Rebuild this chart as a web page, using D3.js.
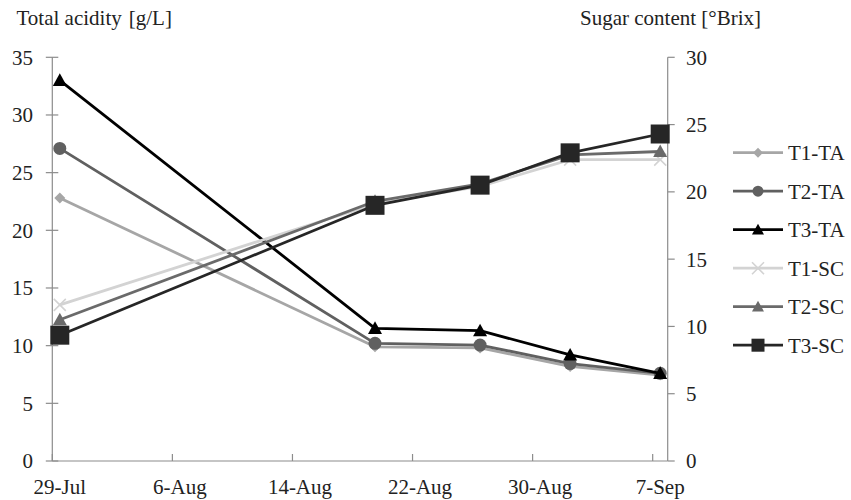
<!DOCTYPE html>
<html><head><meta charset="utf-8">
<script src="https://cdn.jsdelivr.net/npm/d3@7"></script>
<style>
body{margin:0;background:#fff;}
svg text{font-family:"Liberation Serif","Tinos","Times New Roman","DejaVu Serif",serif;fill:#222;}
</style></head>
<body><svg id="chart" width="851" height="500"></svg>
<script>
const year = "2013";
const dates = ["29-Jul","19-Aug","26-Aug","1-Sep","7-Sep"];
const tickLabels = ["29-Jul","6-Aug","14-Aug","22-Aug","30-Aug","7-Sep"];
const domainDates = ["29-Jul","8-Sep"];
const taTicks = [0,5,10,15,20,25,30,35];
const scTicks = [0,5,10,15,20,25,30];

const t1TA = [22.8, 9.9, 9.8, 8.2, 7.45];
const t2TA = [27.1, 10.2, 10.05, 8.45, 7.6];
const t3TA = [33.0, 11.5, 11.3, 9.2, 7.6];
const t1SC = [11.6, 19.1, 20.4, 22.4, 22.4];
const t2SC = [10.5, 19.3, 20.6, 22.75, 23.0];
const t3SC = [9.35, 19.0, 20.5, 22.9, 24.3];

const seriesNames = ["T1-TA","T2-TA","T3-TA","T1-SC","T2-SC","T3-SC"];
const seriesValues = [t1TA,t2TA,t3TA,t1SC,t2SC,t3SC];
const seriesAxis = ["ta","ta","ta","sc","sc","sc"];
const seriesColor = ["#a6a6a6","#606060","#000000","#d3d3d3","#6a6a6a","#262626"];
const seriesMarker = ["diamond","circle","triangle","x","triangle","square"];
const markerSize = {diamond:11, circle:13, triangle:14, x:12, square:19};
const legendSize = {diamond:10, circle:11, triangle:12, x:12, square:13};

const parse = d3.timeParse("%d-%b-%Y");
const pd = s => parse(s + "-" + year);
const svg = d3.select("#chart");
const L = 52.3, R = 667.7, T = 57.3, B = 461;
const x = d3.scaleTime().domain(domainDates.map(pd)).range([L, R]);
const yTA = d3.scaleLinear().domain([0,35]).range([B, T]);
const ySC = d3.scaleLinear().domain([0,30]).range([B, T]);
const mid = d => x(d3.timeHour.offset(d, 12));
const axisColor = "#8c8c8c";
const fs = 21;

// axes lines
const ax = svg.append("g").attr("stroke", axisColor).attr("stroke-width", 1.2);
ax.append("line").attr("x1", L).attr("x2", L).attr("y1", T).attr("y2", B);
ax.append("line").attr("x1", R).attr("x2", R).attr("y1", T).attr("y2", B);
ax.append("line").attr("x1", L).attr("x2", R).attr("y1", B).attr("y2", B);
taTicks.forEach(v => ax.append("line").attr("x1", L-6.5).attr("x2", L+6).attr("y1", yTA(v)).attr("y2", yTA(v)));
scTicks.forEach(v => ax.append("line").attr("x1", R).attr("x2", R+7).attr("y1", ySC(v)).attr("y2", ySC(v)));
tickLabels.forEach(s => ax.append("line").attr("x1", x(pd(s))).attr("x2", x(pd(s))).attr("y1", B).attr("y2", B-7));

const txt = (xx, yy) => svg.append("text").attr("x", xx).attr("y", yy).attr("font-size", fs);

// tick labels
taTicks.forEach(v => txt(33, yTA(v)).attr("dy","0.35em").attr("text-anchor","end").text(v));
scTicks.forEach(v => txt(686, ySC(v)).attr("dy","0.35em").text(v));
tickLabels.forEach(s => txt(mid(pd(s)), 494).attr("text-anchor","middle").text(s));

const t1 = txt(16.5, 24.5);
t1.append("tspan").text("Total acidity");
t1.append("tspan").attr("dx", 7).text("[g/L]");
txt(580, 24.5).text("Sugar content [°Brix]");

function marker(g, type, cx, cy, size, color) {
  const h = size/2;
  if (type === "diamond") {
    g.append("path").attr("d", `M${cx},${cy-h}L${cx+h},${cy}L${cx},${cy+h}L${cx-h},${cy}Z`).attr("fill", color);
  } else if (type === "circle") {
    g.append("circle").attr("cx", cx).attr("cy", cy).attr("r", h).attr("fill", color);
  } else if (type === "triangle") {
    g.append("path").attr("d", `M${cx},${cy-h}L${cx+h},${cy+h*0.8}L${cx-h},${cy+h*0.8}Z`).attr("fill", color);
  } else if (type === "square") {
    g.append("rect").attr("x", cx-h).attr("y", cy-h).attr("width", size).attr("height", size).attr("fill", color);
  } else if (type === "x") {
    g.append("path").attr("d", `M${cx-h},${cy-h}L${cx+h},${cy+h}M${cx-h},${cy+h}L${cx+h},${cy-h}`)
      .attr("stroke", color).attr("stroke-width", 1.6).attr("fill","none");
  }
}

const parsed = dates.map(pd);
seriesValues.forEach((vals, i) => {
  const y = seriesAxis[i] === "ta" ? yTA : ySC;
  const g = svg.append("g");
  const line = d3.line().x((d, j) => mid(parsed[j])).y(d => y(d));
  g.append("path").datum(vals).attr("d", line).attr("fill","none")
    .attr("stroke", seriesColor[i]).attr("stroke-width", 2.8).attr("stroke-linejoin","round");
  vals.forEach((v, j) => marker(g, seriesMarker[i], mid(parsed[j]), y(v), markerSize[seriesMarker[i]], seriesColor[i]));
});

// legend
seriesNames.forEach((name, i) => {
  const cy = 152.7 + i*38.5;
  const g = svg.append("g");
  g.append("line").attr("x1", 733).attr("x2", 783).attr("y1", cy).attr("y2", cy)
    .attr("stroke", seriesColor[i]).attr("stroke-width", 2.8);
  marker(g, seriesMarker[i], 758, cy, legendSize[seriesMarker[i]], seriesColor[i]);
  g.append("text").attr("x", 788).attr("y", cy).attr("dy","0.35em").attr("font-size", fs).text(name);
});
</script></body></html>
